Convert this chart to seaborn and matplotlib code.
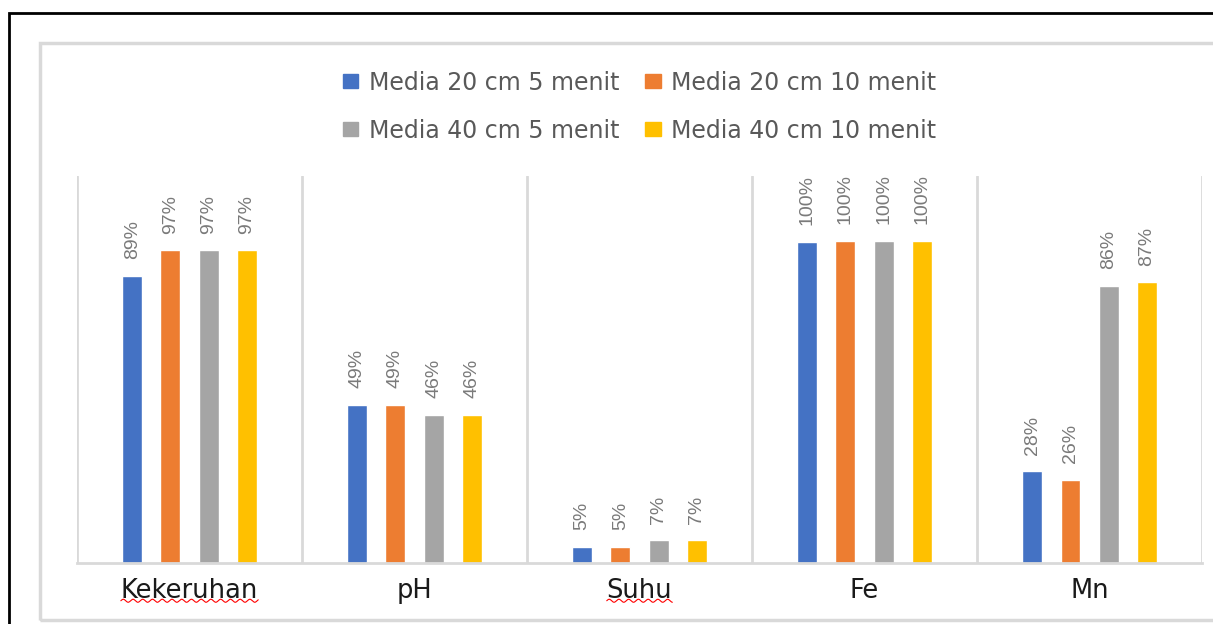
import numpy as np
import pandas as pd
import matplotlib.pyplot as plt
import seaborn as sns
from matplotlib.patches import Rectangle
from matplotlib.lines import Line2D

sns.set_style("white")

# data (percent)
categories = ["Kekeruhan", "pH", "Suhu", "Fe", "Mn"]
series_names = ["Media 20 cm 5 menit", "Media 20 cm 10 menit",
                "Media 40 cm 5 menit", "Media 40 cm 10 menit"]
media_20_5 = [89, 49, 5, 99.6, 28.4]
media_20_10 = [97, 49, 5, 100, 25.7]
media_40_5 = [97, 46, 7, 100, 86]
media_40_10 = [97, 46, 7, 100, 87]
colors = ["#4472C4", "#ED7D31", "#A5A5A5", "#FFC000"]

rows = []
for name, vals in zip(series_names, [media_20_5, media_20_10, media_40_5, media_40_10]):
    for cat, v in zip(categories, vals):
        rows.append({"kategori": cat, "seri": name, "nilai": v})
df = pd.DataFrame(rows)

fig = plt.figure(figsize=(12.13, 6.24), dpi=100)
ax = fig.add_axes([0.0635, 0.0978, 0.9275, 0.620])

sns.barplot(data=df, x="kategori", y="nilai", hue="seri", order=categories,
            hue_order=series_names, palette=colors, width=0.68, gap=0.48,
            saturation=1, ax=ax, legend=False)

for cont in ax.containers:
    vals = cont.datavalues
    ax.bar_label(cont, labels=[f"{v:.0f}%" for v in vals], rotation=90,
                 padding=12, fontsize=14, color="#7a7a7a", family="Liberation Sans")

ax.set_ylim(0, 120)
ax.set_xlim(-0.5, len(categories) - 0.5)
ax.set_yticks([])
ax.set_xlabel("")
ax.set_ylabel("")
for s in ["top", "left", "right"]:
    ax.spines[s].set_visible(False)
ax.spines["bottom"].set_color("#d9d9d9")
ax.spines["bottom"].set_linewidth(2)
for b in np.arange(-0.5, len(categories)):
    ax.axvline(b, color="#d9d9d9", lw=2, zorder=0)

ax.tick_params(axis="x", length=0, pad=11)
ax.set_xticks(range(len(categories)))
ax.set_xticklabels(categories, fontsize=18.5, family="DejaVu Sans", color="#1a1a1a")

# legend, filled row by row like the reference
handles = [Rectangle((0, 0), 1, 1, color=c) for c in colors]
order = [0, 2, 1, 3]
fig.legend([handles[i] for i in order], [series_names[i] for i in order],
           ncol=2, loc="upper left", bbox_to_anchor=(0.2828, 0.887),
           frameon=False, borderpad=0, borderaxespad=0,
           prop={"family": "DejaVu Sans", "size": 17}, labelcolor="#595959",
           handlelength=0.65, handleheight=0.52, handletextpad=0.45,
           columnspacing=1.1, labelspacing=1.02)

# frames
fig.add_artist(Rectangle((0.0074, -0.1), 1.1, 0.1 + 0.979, transform=fig.transFigure,
                         fill=False, edgecolor="black", lw=2))
fig.add_artist(Rectangle((0.033, 0.0064), 1.1, 0.931 - 0.0064, transform=fig.transFigure,
                         fill=False, edgecolor="#d9d9d9", lw=2.5))

# spell-check squiggles under two labels
fig.canvas.draw()
renderer = fig.canvas.get_renderer()
for lab in ax.get_xticklabels():
    if lab.get_text() in ("Kekeruhan", "Suhu"):
        bb = lab.get_window_extent(renderer)
        xs = np.linspace(bb.x0, bb.x1, 300)
        ys = bb.y0 + 3.5 + 1.5 * np.sin((xs - bb.x0) / 1.55)
        fig.add_artist(Line2D(xs / fig.bbox.width, ys / fig.bbox.height,
                              transform=fig.transFigure, color="red", lw=0.8))

fig.savefig("out.png", dpi=100)
